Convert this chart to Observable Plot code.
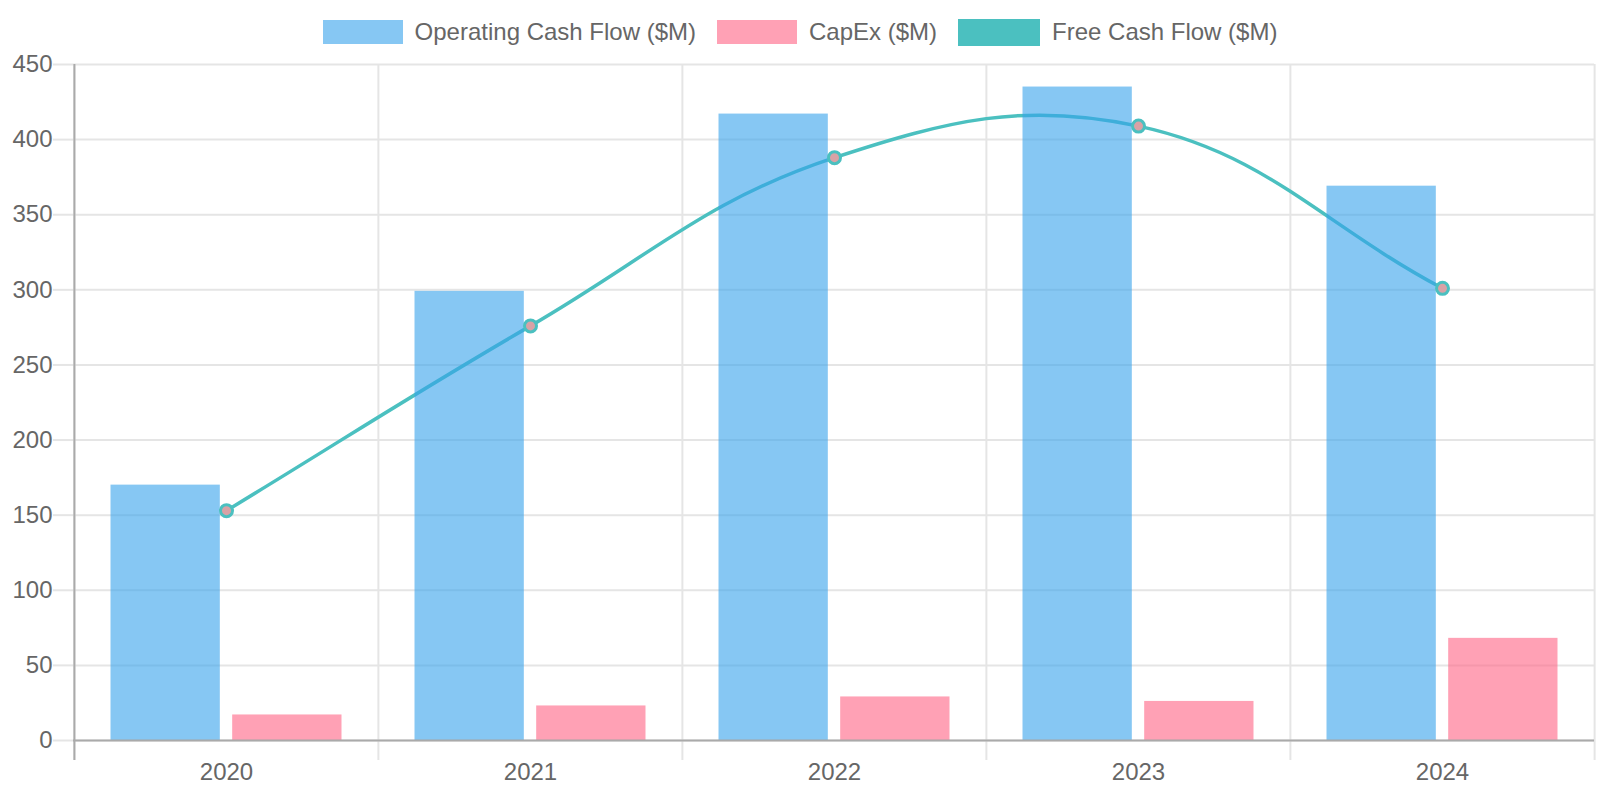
<!DOCTYPE html>
<html>
<head>
<meta charset="utf-8">
<script src="https://cdn.jsdelivr.net/npm/d3@7"></script>
<script src="https://cdn.jsdelivr.net/npm/@observablehq/plot@0.6"></script>
<style>
  html, body { margin: 0; padding: 0; background: #fff; }
  body { width: 1600px; height: 800px; position: relative; overflow: hidden;
         font-family: "Liberation Sans", Arial, Helvetica, sans-serif; }
  #legend { position: absolute; left: 0; top: 0; width: 1600px; height: 64px;
            display: flex; justify-content: center; align-items: center; gap: 21px;
            font-size: 24px; color: #666; }
  .item { display: flex; align-items: center; gap: 12px; white-space: nowrap; }
  .box { width: 80px; height: 24px; box-sizing: border-box; }
  #chart { position: absolute; left: 0; top: 0; }
</style>
</head>
<body>
<div id="chart"></div>
<div id="legend"></div>
<script>
const years = ["2020", "2021", "2022", "2023", "2024"];
const operatingCashFlow = [170, 299, 417, 435, 369];
const capex = [17, 23, 29, 26, 68];
const freeCashFlow = [153, 276, 388, 409, 301];
const yTicks = [0, 50, 100, 150, 200, 250, 300, 350, 400, 450];
const seriesNames = ["Operating Cash Flow ($M)", "CapEx ($M)", "Free Cash Flow ($M)"];
const seriesColors = ["rgba(54,162,235,0.6)", "rgba(255,99,132,0.6)", "#4BC0C0"];

const data = years.map((year, i) => ({
  year, ocf: operatingCashFlow[i], capex: capex[i], fcf: freeCashFlow[i]
}));

// Legend
const legend = document.getElementById("legend");
seriesNames.forEach((name, i) => {
  const item = document.createElement("div");
  item.className = "item";
  const box = document.createElement("div");
  box.className = "box";
  box.style.background = seriesColors[i];
  if (i === 2) { box.style.height = "27px"; box.style.width = "82px"; }
  const label = document.createElement("span");
  label.textContent = name;
  item.appendChild(box);
  item.appendChild(label);
  legend.appendChild(item);
});

// Chart.js-style spline curve (tension 0.4)
function ChartJsCurve(context) { this._context = context; }
ChartJsCurve.prototype = {
  areaStart() { this._line = 0; },
  areaEnd() { this._line = NaN; },
  lineStart() { this._pts = []; },
  point(x, y) { this._pts.push([+x, +y]); },
  lineEnd() {
    const p = this._pts, n = p.length, t = 0.4, ctx = this._context;
    if (!n) return;
    const cps = p.map((cur, i) => {
      const prev = i > 0 ? p[i - 1] : cur;
      const next = i < n - 1 ? p[i + 1] : cur;
      const d01 = Math.hypot(cur[0] - prev[0], cur[1] - prev[1]);
      const d12 = Math.hypot(next[0] - cur[0], next[1] - cur[1]);
      let s01 = d01 / (d01 + d12), s12 = d12 / (d01 + d12);
      if (isNaN(s01)) s01 = 0; if (isNaN(s12)) s12 = 0;
      const fa = t * s01, fb = t * s12;
      return {
        prev: [cur[0] - fa * (next[0] - prev[0]), cur[1] - fa * (next[1] - prev[1])],
        next: [cur[0] + fb * (next[0] - prev[0]), cur[1] + fb * (next[1] - prev[1])]
      };
    });
    ctx.moveTo(p[0][0], p[0][1]);
    for (let i = 0; i < n - 1; i++) {
      ctx.bezierCurveTo(cps[i].next[0], cps[i].next[1], cps[i + 1].prev[0], cps[i + 1].prev[1], p[i + 1][0], p[i + 1][1]);
    }
  }
};
const chartJsCurve = (context) => new ChartJsCurve(context);

const W = 1600, H = 800, mL = 73, mR = 6, mT = 64, mB = 60;
const bw = (W - mL - mR) / years.length;
const slot = bw * 0.8 / 2;
const barW = slot * 0.9;
const ocfLeft = bw * 0.1 + slot * 0.05;
const capLeft = bw * 0.1 + slot + slot * 0.05;

const grid = "#e5e5e5";
const axisGray = "#aaaaaa";

const chart = Plot.plot({
  width: W, height: H,
  marginLeft: mL, marginRight: mR, marginTop: mT, marginBottom: mB,
  style: { fontFamily: "'Liberation Sans', Arial, Helvetica, sans-serif", fontSize: "24px", color: "#666", background: "#fff" },
  x: { type: "band", domain: years, padding: 0, label: null },
  y: { domain: [0, 450], label: null },
  marks: [
    Plot.ruleY(yTicks, { y: d => d, stroke: grid, strokeWidth: 2 }),
    Plot.ruleX(years, { x: d => d, dx: -bw / 2, stroke: grid, strokeWidth: 2, insetBottom: -20 }),
    Plot.ruleX([years[years.length - 1]], { x: d => d, dx: bw / 2, stroke: grid, strokeWidth: 2, insetBottom: -20 }),
    Plot.line(data, { x: "year", y: "fcf", stroke: "#4BC0C0", strokeWidth: 3.5, curve: chartJsCurve }),
    Plot.barY(data, { x: "year", y: "ocf", fill: "rgba(54,162,235,0.6)", insetLeft: ocfLeft, insetRight: bw - ocfLeft - barW }),
    Plot.barY(data, { x: "year", y: "capex", fill: "rgba(255,99,132,0.6)", insetLeft: capLeft, insetRight: bw - capLeft - barW }),
    Plot.ruleX([years[0]], { x: d => d, dx: -bw / 2, stroke: axisGray, strokeWidth: 2, insetBottom: -20 }),
    Plot.ruleY([0], { stroke: axisGray, strokeWidth: 2 }),
    Plot.dot(data, { x: "year", y: "fcf", r: 6, fill: "#d8a2a6", stroke: "#4BC0C0", strokeWidth: 3 }),
    Plot.axisY({ ticks: yTicks, tickSize: 20, tickPadding: 1, stroke: grid, strokeWidth: 2, fill: "#666", fontSize: 24, label: null }),
    Plot.axisX({ tickSize: 0, tickPadding: 22, fill: "#666", fontSize: 24, label: null })
  ]
});
document.getElementById("chart").appendChild(chart);
</script>
</body>
</html>
